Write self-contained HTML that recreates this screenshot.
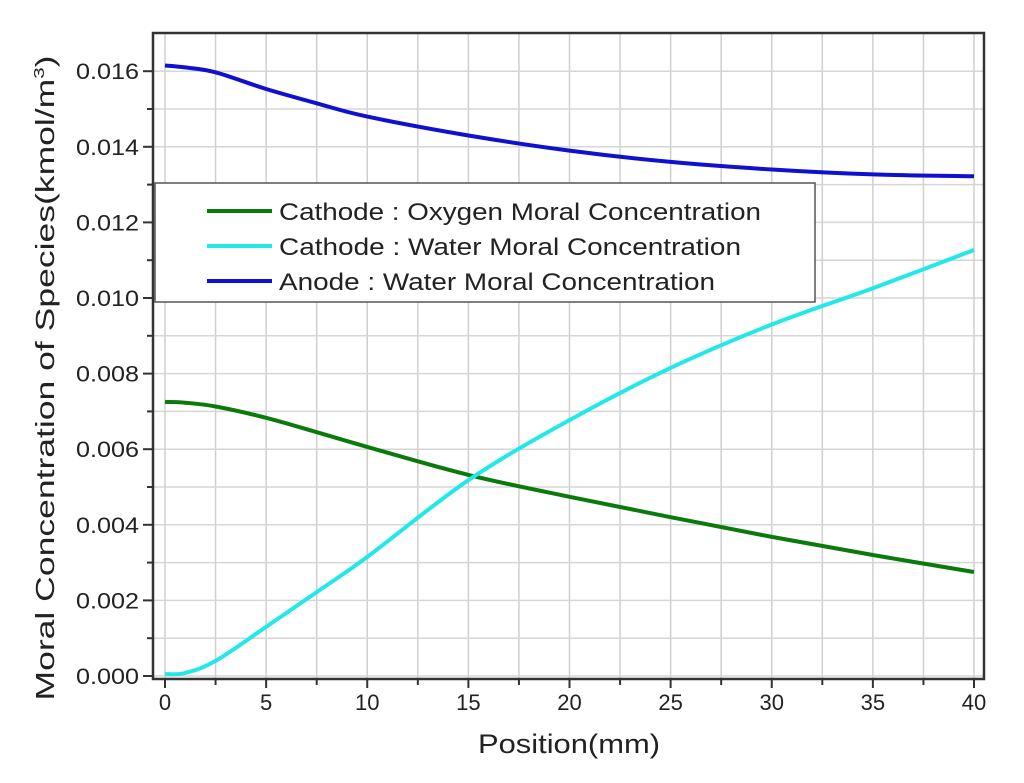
<!DOCTYPE html>
<html><head><meta charset="utf-8"><style>
html,body{margin:0;padding:0;background:#fff;}
svg{display:block;font-family:"Liberation Sans",Arial,sans-serif;}
</style></head><body>
<svg id="chart" width="1024" height="783" viewBox="0 0 1024 783"></svg>
<script>
const xTicks=[0,5,10,15,20,25,30,35,40];
const yTicks=[0,0.002,0.004,0.006,0.008,0.010,0.012,0.014,0.016];
const yTickLabels=["0.000","0.002","0.004","0.006","0.008","0.010","0.012","0.014","0.016"];
const positions=[0,1,2.5,5,7.5,10,15,20,25,30,35,40];
const anodeWater=[0.01615,0.01610,0.01597,0.01553,0.01515,0.01480,0.01430,0.01390,0.01360,0.01340,0.01327,0.01322];
const cathodeOxygen=[0.00725,0.00723,0.00713,0.00683,0.00645,0.00606,0.00532,0.00474,0.00420,0.00368,0.00320,0.00275];
const cathodeWater=[0.00005,0.00008,0.00040,0.00130,0.00222,0.00315,0.00518,0.00677,0.00815,0.00930,0.01026,0.01127];
const seriesNames=["Cathode : Oxygen Moral Concentration","Cathode : Water Moral Concentration","Anode : Water Moral Concentration"];
const seriesColors=["#0a7a0a","#22e8e8","#1010d0"];

const NS="http://www.w3.org/2000/svg";
const svg=document.getElementById('chart');
const L=153,R=984,T=33,B=679;
const X0=165,X1=974;
function xs(v){return X0+(v/40)*(X1-X0);}
function ys(v){return 676-v*37800;}
function mk(tag,attrs,parent){const e=document.createElementNS(NS,tag);for(const k in attrs)e.setAttribute(k,attrs[k]);(parent||svg).appendChild(e);return e;}
function smoothPath(pts){
  let d='M'+pts[0][0].toFixed(1)+','+pts[0][1].toFixed(1);
  for(let i=0;i<pts.length-1;i++){
    const p0=pts[i-1]||pts[i],p1=pts[i],p2=pts[i+1],p3=pts[i+2]||p2;
    const c1=[p1[0]+(p2[0]-p0[0])/6,p1[1]+(p2[1]-p0[1])/6];
    const c2=[p2[0]-(p3[0]-p1[0])/6,p2[1]-(p3[1]-p1[1])/6];
    d+=' C'+c1[0].toFixed(1)+','+c1[1].toFixed(1)+' '+c2[0].toFixed(1)+','+c2[1].toFixed(1)+' '+p2[0].toFixed(1)+','+p2[1].toFixed(1);
  }
  return d;
}

const grid=mk('g',{});


for(let v=0;v<=40;v+=2.5){mk('line',{x1:xs(v),x2:xs(v),y1:T,y2:B,stroke:'#cfcfcf','stroke-width':1.5},grid);}
for(let v=0;v<=0.017;v+=0.001){mk('line',{x1:L,x2:R,y1:ys(v),y2:ys(v),stroke:'#d6d6d6','stroke-width':1.5},grid);}

const allSeries=[cathodeOxygen,cathodeWater,anodeWater];
const names=['oxygen-line','cathode-water-line','anode-water-line'];
allSeries.forEach((arr,i)=>{
  const pts=arr.map((v,j)=>[xs(positions[j]),ys(v)]);
  const p=mk('path',{d:smoothPath(pts),fill:'none',stroke:seriesColors[i],'stroke-width':4,'stroke-linejoin':'round'});
  
  
});

const fr=mk('rect',{x:L,y:T,width:R-L,height:B-T,fill:'none',stroke:'#333','stroke-width':2.5});



yTicks.forEach((v,i)=>{
  mk('line',{x1:L-10,x2:L,y1:ys(v),y2:ys(v),stroke:'#333','stroke-width':2});
  const t=mk('text',{x:L-14,y:ys(v)+8,'text-anchor':'end','font-size':22,fill:'#222',textLength:63,lengthAdjust:'spacingAndGlyphs'});
  t.textContent=yTickLabels[i];
  
  
});
for(let v=0.001;v<0.017;v+=0.002){mk('line',{x1:L-6,x2:L,y1:ys(v),y2:ys(v),stroke:'#333','stroke-width':2});}
xTicks.forEach(v=>{
  mk('line',{x1:xs(v),x2:xs(v),y1:B,y2:B+9,stroke:'#333','stroke-width':2});
  const t=mk('text',{x:xs(v),y:B+31,'text-anchor':'middle','font-size':22,fill:'#222'});
  t.textContent=v;
  
  
});
for(let v=2.5;v<40;v+=5){mk('line',{x1:xs(v),x2:xs(v),y1:B,y2:B+6,stroke:'#333','stroke-width':2});}

const xt=mk('text',{x:569,y:753,'text-anchor':'middle','font-size':27,fill:'#222',textLength:182,lengthAdjust:'spacingAndGlyphs'});
xt.textContent='Position(mm)';


const yt=mk('text',{x:0,y:0,'text-anchor':'middle','font-size':26,fill:'#222',transform:'translate(54,378) rotate(-90)',textLength:645,lengthAdjust:'spacingAndGlyphs'});
yt.innerHTML='Moral Concentration of Species(kmol/m<tspan dy="-10" font-size="15">3</tspan><tspan dy="10">)</tspan>';



const lg=mk('g',{});


mk('rect',{x:155,y:183,width:660,height:119,fill:'#fff',stroke:'#555','stroke-width':1.5},lg);
const legendWidths=[482,462,436];
seriesNames.forEach((n,i)=>{
  const y=211+i*35;
  mk('line',{x1:207,x2:272,y1:y,y2:y,stroke:seriesColors[i],'stroke-width':4},lg);
  const t=mk('text',{x:279,y:y+9,'font-size':24,fill:'#222',textLength:legendWidths[i],lengthAdjust:'spacingAndGlyphs'},lg);
  t.textContent=n;
  
  
});
</script>
</body></html>
